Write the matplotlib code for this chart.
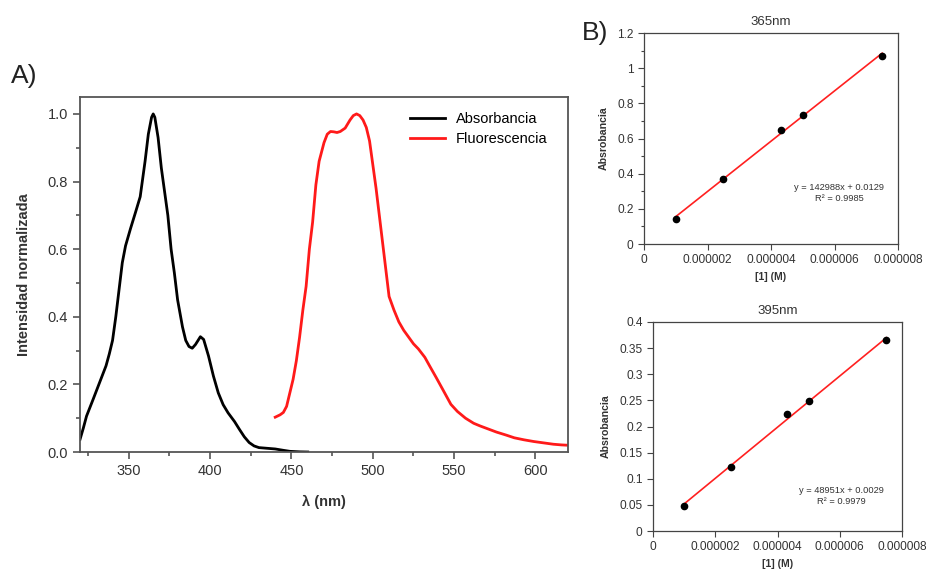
import matplotlib
matplotlib.use("Agg")
from matplotlib import pyplot as plt
from matplotlib.ticker import MultipleLocator, FormatStrFormatter, FuncFormatter

plt.rcParams['font.family'] = ['Liberation Sans', 'DejaVu Sans']

# panel A: normalized spectra
abs_nm = [320, 322, 324, 328, 332, 336, 338, 340, 342, 344, 346, 348, 351, 354, 357,
          360, 362, 364, 365, 366, 368, 370, 372, 374, 376, 378, 380, 383, 385, 387,
          389, 391, 394, 396, 399, 402, 405, 408, 411, 415, 418, 421, 424, 427, 430,
          435, 440, 445, 449, 455, 460]
abs_int = [0.037, 0.07, 0.106, 0.155, 0.205, 0.255, 0.29, 0.33, 0.40, 0.48, 0.56, 0.61,
           0.66, 0.707, 0.755, 0.86, 0.94, 0.99, 1.0, 0.99, 0.93, 0.84, 0.77, 0.70, 0.60,
           0.53, 0.45, 0.37, 0.33, 0.312, 0.307, 0.318, 0.341, 0.333, 0.284, 0.225, 0.175,
           0.14, 0.116, 0.09, 0.067, 0.045, 0.028, 0.018, 0.013, 0.011, 0.009, 0.005,
           0.002, 0.0005, 0.0]

fl_nm = [440, 443, 445, 447, 449, 451, 453, 455, 457, 459, 461, 463, 465, 467, 470,
         472, 474, 476, 478, 480, 483, 486, 488, 490, 492, 494, 496, 498, 500, 502,
         504, 506, 508, 510, 513, 516, 519, 522, 525, 528, 532, 535, 539, 543, 548,
         552, 557, 562, 566, 571, 576, 582, 587, 593, 599, 605, 611, 616, 620]
fl_int = [0.103, 0.11, 0.117, 0.135, 0.175, 0.215, 0.27, 0.34, 0.42, 0.49, 0.60, 0.68,
          0.79, 0.86, 0.915, 0.94, 0.948, 0.947, 0.945, 0.948, 0.958, 0.982, 0.995, 1.0,
          0.995, 0.982, 0.96, 0.92, 0.85, 0.78, 0.70, 0.62, 0.54, 0.46, 0.42, 0.385,
          0.36, 0.34, 0.32, 0.305, 0.28, 0.254, 0.22, 0.185, 0.141, 0.12, 0.1, 0.085,
          0.077, 0.068, 0.059, 0.05, 0.042, 0.036, 0.031, 0.027, 0.023, 0.021, 0.02]

# panel B: calibration
conc = [1.0e-6, 2.5e-6, 4.3e-6, 5.0e-6, 7.5e-6]
abs_365 = [0.145, 0.37, 0.65, 0.735, 1.07]
abs_395 = [0.048, 0.123, 0.223, 0.249, 0.365]
fit_365 = (142988, 0.0129, 0.9985)
fit_395 = (48951, 0.0029, 0.9979)

fig = plt.figure(figsize=(9.26, 5.70), dpi=100)

ax = fig.add_axes([0.0864, 0.207, 0.527, 0.6228])
ax.plot(abs_nm, abs_int, color="black", lw=2, label="Absorbancia")
ax.plot(fl_nm, fl_int, color="#ff1a1a", lw=2, label="Fluorescencia")
ax.set_xlim(320, 620)
ax.set_ylim(0, 1.05)
ax.xaxis.set_major_locator(MultipleLocator(50))
ax.xaxis.set_minor_locator(MultipleLocator(25))
ax.yaxis.set_major_locator(MultipleLocator(0.2))
ax.yaxis.set_minor_locator(MultipleLocator(0.1))
ax.yaxis.set_major_formatter(FormatStrFormatter("%.1f"))
ax.tick_params(which="both", direction="out", colors="#555555", labelcolor="#333333",
               labelsize=10.5, top=False, right=False)
ax.tick_params(which="major", length=5, width=1.2)
ax.tick_params(which="minor", length=3, width=1.2)
for s in ax.spines.values():
    s.set_color("#555555")
    s.set_linewidth(1.3)
ax.set_xlabel("λ (nm)", fontsize=10.5, fontweight="bold", color="#333333", labelpad=12)
ax.set_ylabel("Intensidad normalizada", fontsize=10.5, fontweight="bold",
              color="#333333", labelpad=12)
ax.legend(loc="upper right", frameon=False, fontsize=10.5, handlelength=2.4,
          handletextpad=0.75, bbox_to_anchor=(0.985, 0.995), labelspacing=0.4)
fig.text(0.012, 0.855, "A)", fontsize=19, color="#222222")
fig.text(0.628, 0.93, "B)", fontsize=19, color="#222222")


def sci_plain(v, pos):
    return "0" if v == 0 else f"{v:.6f}"


def calib(rect, title, y, fit, ymax, ystep, yminor, txt_xy):
    a = fig.add_axes(rect)
    slope, icpt, r2 = fit
    xs = [conc[0], conc[-1]]
    a.plot(xs, [slope * x + icpt for x in xs], color="#ff2020", lw=1.2)
    a.plot(conc, y, "o", color="black", ms=4.5)
    a.set_xlim(0, 8e-6)
    a.set_ylim(0, ymax)
    a.xaxis.set_major_locator(MultipleLocator(2e-6))
    a.xaxis.set_major_formatter(FuncFormatter(sci_plain))
    a.yaxis.set_major_locator(MultipleLocator(ystep))
    a.yaxis.set_major_formatter(FuncFormatter(lambda v, p: f"{v:g}"))
    if yminor:
        a.yaxis.set_minor_locator(MultipleLocator(yminor))
    a.tick_params(which="both", direction="out", colors="#444444", labelcolor="#333333",
                  labelsize=8.6, length=4, width=0.8)
    a.tick_params(which="minor", length=2.5)
    for s in a.spines.values():
        s.set_color("#444444")
        s.set_linewidth(0.9)
    a.set_title(title, fontsize=9.5, color="#333333", pad=6)
    a.set_xlabel("[1] (M)", fontsize=7.5, fontweight="bold", color="#333333")
    a.set_ylabel("Absrobancia", fontsize=7.6, fontweight="bold", color="#333333", labelpad=6)
    a.text(txt_xy[0], txt_xy[1], f"y = {slope}x + {icpt}\nR² = {r2}", fontsize=6.7,
           color="#333333", ha="center", va="center", linespacing=1.3)
    return a


calib([0.6955, 0.5719, 0.2743, 0.3702], "365nm", abs_365, fit_365, 1.2, 0.2, 0.1,
      (6.14e-6, 0.29))
calib([0.7052, 0.0684, 0.2689, 0.3667], "395nm", abs_395, fit_395, 0.4, 0.05, None,
      (6.04e-6, 0.067))

fig.savefig("out.png", dpi=100)
